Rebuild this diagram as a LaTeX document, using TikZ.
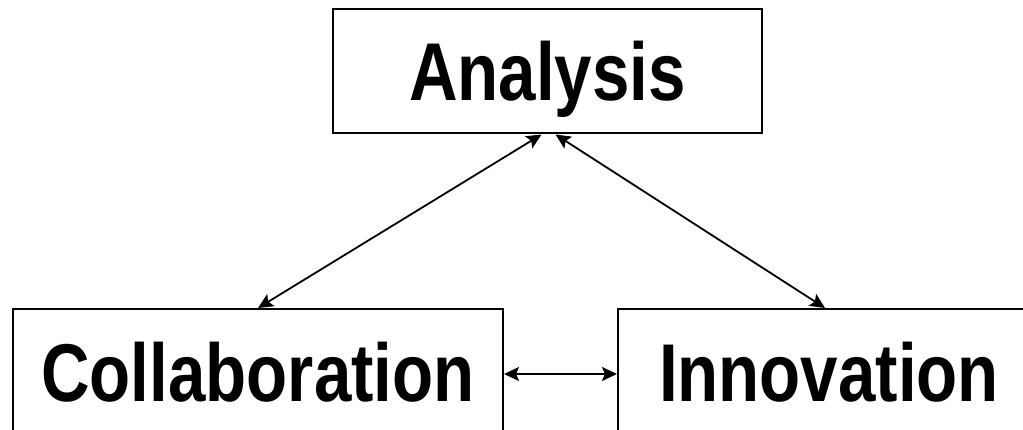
\documentclass[tikz,border=0pt]{standalone}
\usepackage{fontspec}
\setmainfont{Liberation Sans}[FakeStretch=0.82]
\usetikzlibrary{arrows.meta}

\begin{document}
\begin{tikzpicture}[x=1pt, y=-1pt,
    box/.style={draw, line width=2pt, inner sep=0pt, text height=59pt, text depth=0pt,
                font=\fontsize{82}{90}\selectfont\bfseries},
    link/.style={line width=1.8pt, {Stealth[length=15pt,width=14pt,inset=3pt]}-{Stealth[length=15pt,width=14pt,inset=3pt]}}]
  \useasboundingbox (0,0) rectangle (1023,430);

  \node[box, minimum width=429pt, minimum height=124pt] (analysis) at (547.5,71.5) {Analysis};
  \node[box, minimum width=490pt, minimum height=126pt] (collab) at (258,372) {Collaboration};
  \node[box, minimum width=422pt, minimum height=126pt] (innov) at (829,372) {Innovation};

  \draw[link] ([xshift=-6pt]analysis.south) -- (collab.north);
  \draw[link] ([xshift=8pt]analysis.south) -- ([xshift=-4pt]innov.north);
  \draw[link] ([yshift=-2pt]collab.east) -- ([yshift=-2pt]innov.west);
\end{tikzpicture}
\end{document}
